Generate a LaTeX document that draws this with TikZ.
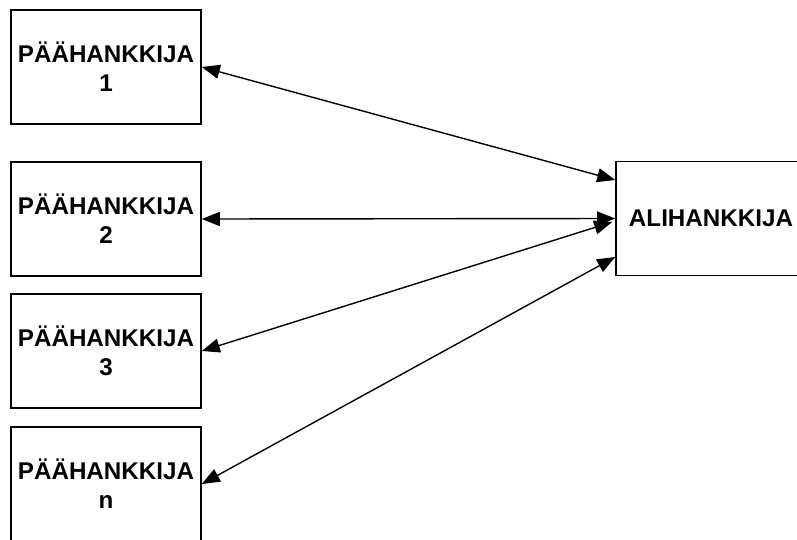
\documentclass[tikz,border=0pt]{standalone}
\usepackage{fontspec}
\setmainfont{Liberation Sans}
\usetikzlibrary{arrows.meta,calc}
\begin{document}
\begin{tikzpicture}[x=1pt,y=-1pt,
  party/.style={draw, line width=1.6pt, minimum width=190pt, minimum height=114pt,
    inner sep=0pt, align=center, font=\fontsize{24.2}{29}\selectfont\bfseries},
  link/.style={line width=1.4pt, {Triangle[length=18pt,width=14pt]}-{Triangle[length=18pt,width=14pt]}}]
  \useasboundingbox (0,0) rectangle (797,539);
  % contractors on the left
  \node[party] (p1) at (106,67)  {PÄÄHANKKIJA\\1};
  \node[party] (p2) at (106,219) {PÄÄHANKKIJA\\2};
  \node[party] (p3) at (106,351) {PÄÄHANKKIJA\\3};
  \node[party] (pn) at (106,484) {PÄÄHANKKIJA\\n};
  % subcontractor on the right
  \node[party] (a) at (711,218.5) {ALIHANKKIJA};
  \coordinate (a1) at ($(a.west)+(0,-38.5)$);
  \coordinate (a3) at ($(a.west)+(-3,3.5)$);
  \coordinate (an) at ($(a.west)+(0,38.5)$);
  % two-way links
  \draw[link] (p1.east) -- (a1);
  \draw[link] (p2.east) -- (a.west);
  \draw[link] (p3.east) -- (a3);
  \draw[link] (pn.east) -- ($(an)+(0,0)$);
\end{tikzpicture}
\end{document}
